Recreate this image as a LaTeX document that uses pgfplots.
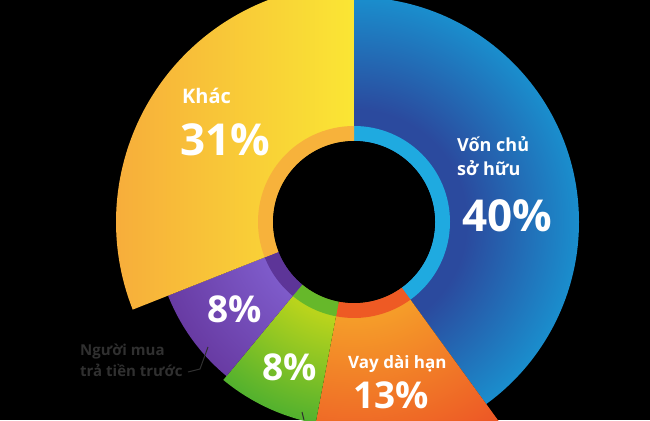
\documentclass[border=0pt]{standalone}
\usepackage{pgfplots}
\pgfplotsset{compat=1.18}
\usepackage{pgfplotstable}
\usepackage{fontspec}
\setmainfont{Open Sans}

\definecolor{blueIn}{HTML}{2B4A9E}
\definecolor{blueOut}{HTML}{1A8ECD}
\definecolor{blueRing}{HTML}{1FAAE0}
\definecolor{orIn}{HTML}{F59C29}
\definecolor{orOut}{HTML}{EC5025}
\definecolor{orRing}{HTML}{EE5A24}
\definecolor{grIn}{HTML}{B9D41C}
\definecolor{grOut}{HTML}{52B12E}
\definecolor{grRing}{HTML}{66B82A}
\definecolor{puIn}{HTML}{7E5BCA}
\definecolor{puOut}{HTML}{683BA3}
\definecolor{puRing}{HTML}{5D3598}
\definecolor{yeL}{HTML}{F7AD3B}
\definecolor{yeR}{HTML}{FAE634}
\definecolor{yeRing}{HTML}{F7B23B}
\definecolor{leader}{HTML}{303030}

% radial shadings: 25bp = outer radius of the slice (TikZ maps the middle 50bp square to the path)
\pgfdeclareradialshading{blueR}{\pgfpoint{0bp}{0bp}}{color(0bp)=(blueIn); color(12.5bp)=(blueIn); color(25bp)=(blueOut); color(50bp)=(blueOut)}
\pgfdeclareradialshading{orR}{\pgfpoint{0bp}{0bp}}{color(0bp)=(orIn); color(9.5bp)=(orIn); color(25bp)=(orOut); color(50bp)=(orOut)}
\pgfdeclareradialshading{grR}{\pgfpoint{0bp}{0bp}}{color(0bp)=(grIn); color(12bp)=(grIn); color(25bp)=(grOut); color(50bp)=(grOut)}
\pgfdeclareradialshading{puR}{\pgfpoint{0bp}{0bp}}{color(0bp)=(puIn); color(12bp)=(puIn); color(25bp)=(puOut); color(50bp)=(puOut)}

% share (%) and outer radius (pt) of each slice, clockwise from the top
\pgfplotstableread{
name share rout
Von   40 225
Vay   13 258
Other  8 205
Buyer  8 200
Khac  31 238
}\slices

\def\rin{81}
\def\rring{96}

\pgfplotstablegetelem{0}{share}\of\slices \let\sA\pgfplotsretval
\pgfplotstablegetelem{1}{share}\of\slices \let\sB\pgfplotsretval
\pgfplotstablegetelem{2}{share}\of\slices \let\sC\pgfplotsretval
\pgfplotstablegetelem{3}{share}\of\slices \let\sD\pgfplotsretval
\pgfplotstablegetelem{4}{share}\of\slices \let\sE\pgfplotsretval
\pgfplotstablegetelem{0}{rout}\of\slices \let\rA\pgfplotsretval
\pgfplotstablegetelem{1}{rout}\of\slices \let\rB\pgfplotsretval
\pgfplotstablegetelem{2}{rout}\of\slices \let\rC\pgfplotsretval
\pgfplotstablegetelem{3}{rout}\of\slices \let\rD\pgfplotsretval
\pgfplotstablegetelem{4}{rout}\of\slices \let\rE\pgfplotsretval
\pgfmathsetmacro\aA{90}
\pgfmathsetmacro\aB{\aA-3.6*\sA}
\pgfmathsetmacro\aC{\aB-3.6*\sB}
\pgfmathsetmacro\aD{\aC-3.6*\sC}
\pgfmathsetmacro\aE{\aD-3.6*\sD}
\pgfmathsetmacro\aF{\aE-3.6*\sE}

% annular sector: #1 start angle, #2 end angle, #3 outer r, #4 inner r
\def\sector#1#2#3#4{([shift={(#1:#3pt)}]axis cs:0,0) arc[start angle=#1, end angle=#2, radius=#3pt]
  -- ([shift={(#2:#4pt)}]axis cs:0,0) arc[start angle=#2, end angle=#1, radius=#4pt] -- cycle}

\begin{document}
\begin{tikzpicture}
\begin{axis}[hide axis, x=1pt, y=1pt, scale only axis,
  xmin=-354, xmax=296, ymin=-198, ymax=222, clip=false]
\fill[black] (axis cs:-354,-198) rectangle (axis cs:296,222);
% blue
\begin{scope}\clip \sector{\aA}{\aB}{\rA}{\rin};
\shade[shading=blueR] (axis cs:0,0) circle[radius=\rA pt];\end{scope}
% orange
\begin{scope}\clip \sector{\aB}{\aC}{\rB}{\rin};
\shade[shading=orR] (axis cs:0,0) circle[radius=\rB pt];\end{scope}
% green
\begin{scope}\clip \sector{\aC}{\aD}{\rC}{\rin};
\shade[shading=grR] (axis cs:0,0) circle[radius=\rC pt];\end{scope}
% purple
\begin{scope}\clip \sector{\aD}{\aE}{\rD}{\rin};
\shade[shading=puR] (axis cs:0,0) circle[radius=\rD pt];\end{scope}
% yellow
\begin{scope}\clip \sector{\aE}{\aF}{\rE}{\rin};
\shade[left color=yeL, right color=yeR] (axis cs:-240,-120) rectangle (axis cs:0,240);\end{scope}
% inner rings
\fill[blueRing] \sector{\aA}{\aB}{\rring}{\rin};
\fill[orRing] \sector{\aB}{\aC}{\rring}{\rin};
\fill[grRing] \sector{\aC}{\aD}{\rring}{\rin};
\fill[puRing] \sector{\aD}{\aE}{\rring}{\rin};
\fill[yeRing] \sector{\aE}{\aF}{\rring}{\rin};
\fill[black] (axis cs:0,0) circle[radius=\rin pt];
% labels
\begin{scope}[every node/.style={inner sep=0pt, anchor=base west, text=white}]
\node at (axis cs:-172,118) {\fontsize{20}{20}\selectfont\bfseries Khác};
\node at (axis cs:-174,66) {\fontsize{44}{44}\selectfont\bfseries 31\%};
\node at (axis cs:103,70) {\fontsize{18}{18}\selectfont\bfseries Vốn chủ};
\node at (axis cs:103,46) {\fontsize{18}{18}\selectfont\bfseries sở hữu};
\node at (axis cs:108,-10) {\fontsize{44}{44}\selectfont\bfseries 40\%};
\node at (axis cs:-6,-146) {\fontsize{17}{17}\selectfont\bfseries Vay dài hạn};
\node at (axis cs:-1,-186) {\fontsize{37}{37}\selectfont\bfseries 13\%};
\node at (axis cs:-147,-101) {\fontsize{37}{37}\selectfont\bfseries 8\%};
\node at (axis cs:-92,-158) {\fontsize{37}{37}\selectfont\bfseries 8\%};
\node[text=leader] at (axis cs:-274,-133) {\fontsize{15}{15}\selectfont\bfseries Người mua};
\node[text=leader] at (axis cs:-274,-154) {\fontsize{15}{15}\selectfont\bfseries trả tiền trước};
\end{scope}
\draw[leader, line width=1pt] (axis cs:-166,-150) -- (axis cs:-154,-147) -- (axis cs:-146,-125);
\draw[leader, line width=1pt] (axis cs:-52,-190) -- (axis cs:-50,-198);
\end{axis}
\pgfresetboundingbox
\useasboundingbox (current axis.south west) rectangle (current axis.north east);
\end{tikzpicture}
\end{document}
